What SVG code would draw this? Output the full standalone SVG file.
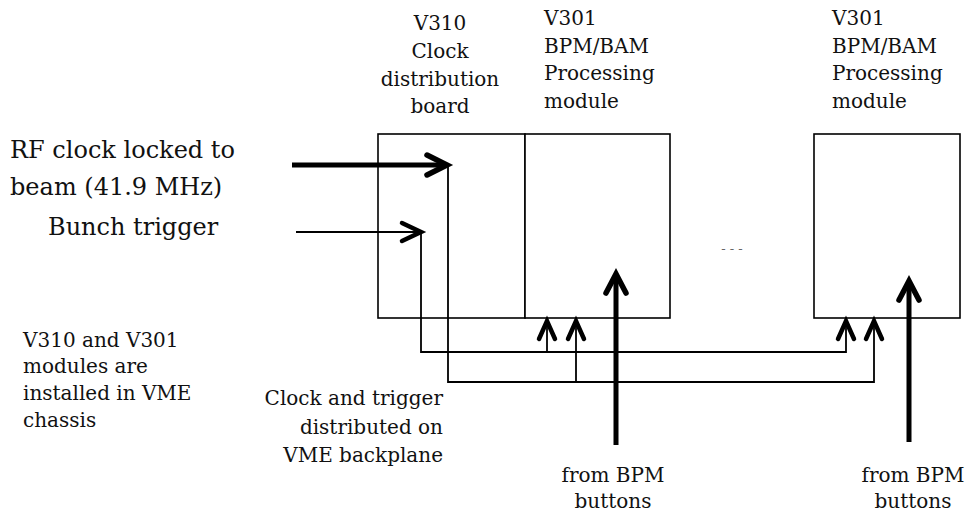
<svg xmlns="http://www.w3.org/2000/svg" width="966" height="517" viewBox="0 0 966 517">
<style>
text{font-family:"DejaVu Serif","Liberation Serif",serif;fill:#111}
.big{font-size:24px}
.lbl{font-size:20px}
.box{fill:#fff;stroke:#000;stroke-width:1.6}
.ln{fill:none;stroke:#000;stroke-width:1.8}
.thin{fill:none;stroke:#000;stroke-width:2.2}
.thick{fill:none;stroke:#000;stroke-width:5}
.head{fill:none;stroke:#000;stroke-width:4.5;stroke-linecap:round;stroke-linejoin:miter}
.headb{fill:none;stroke:#000;stroke-width:5.5;stroke-linecap:round;stroke-linejoin:miter}
</style>
<rect width="966" height="517" fill="#fff"/>

<g id="v310">
<rect class="box" x="378" y="134" width="147" height="184"/>
<text class="lbl" text-anchor="middle"><tspan x="440" y="30">V310</tspan><tspan x="440" y="58">Clock</tspan><tspan x="440" y="86">distribution</tspan><tspan x="440" y="113">board</tspan></text>
</g>

<g id="v301a">
<rect class="box" x="525" y="134" width="145" height="184"/>
<text class="lbl"><tspan x="544" y="25">V301</tspan><tspan x="544" y="53">BPM/BAM</tspan><tspan x="544" y="80">Processing</tspan><tspan x="544" y="108">module</tspan></text>
</g>

<g id="v301b">
<rect class="box" x="814" y="134" width="146" height="184"/>
<text class="lbl"><tspan x="832" y="25">V301</tspan><tspan x="832" y="53">BPM/BAM</tspan><tspan x="832" y="80">Processing</tspan><tspan x="832" y="108">module</tspan></text>
</g>

<g id="inputs">
<text class="big"><tspan x="10" y="158">RF clock locked to</tspan><tspan x="10" y="195">beam (41.9 MHz)</tspan></text>
<text class="big" x="48" y="235">Bunch trigger</text>
</g>

<g id="notes">
<text class="lbl"><tspan x="23" y="347">V310 and V301</tspan><tspan x="23" y="373">modules are</tspan><tspan x="23" y="400">installed in VME</tspan><tspan x="23" y="427">chassis</tspan></text>
<text class="lbl" text-anchor="end"><tspan x="443" y="405">Clock and trigger</tspan><tspan x="443" y="434">distributed on</tspan><tspan x="443" y="462">VME backplane</tspan></text>
<text class="lbl" text-anchor="middle"><tspan x="613" y="482">from BPM</tspan><tspan x="613" y="508">buttons</tspan></text>
<text class="lbl" text-anchor="middle"><tspan x="913" y="482">from BPM</tspan><tspan x="913" y="508">buttons</tspan></text>
<text x="732" y="253" text-anchor="middle" style="font-size:13px;fill:#666">- - -</text>
</g>

<g id="connectors">
<!-- RF clock -->
<line class="thick" x1="292" y1="165" x2="445" y2="165"/>
<polyline class="headb" points="427,155 447,165 427,175"/>
<polyline class="ln" points="448,165 448,382 874,382 874,322"/>
<!-- Bunch trigger -->
<line class="thin" x1="296" y1="232" x2="419" y2="232"/>
<polyline class="head" points="402,223 421,232 402,241"/>
<polyline class="ln" points="421,232 421,352 846,352 846,322"/>
<!-- branches to first V301 -->
<line class="ln" x1="547" y1="352" x2="547" y2="322"/>
<line class="ln" x1="576" y1="382" x2="576" y2="322"/>
<polyline class="head" points="539,339 547,321 555,339"/>
<polyline class="head" points="568,339 576,321 584,339"/>
<polyline class="head" points="838,339 846,321 854,339"/>
<polyline class="head" points="866,339 874,321 882,339"/>
<!-- BPM inputs -->
<line class="thick" x1="616" y1="445" x2="616" y2="276"/>
<polyline class="headb" points="606,293 616,274 626,293"/>
<line class="thick" x1="909" y1="442" x2="909" y2="283"/>
<polyline class="headb" points="899,300 909,281 919,300"/>
</g>
</svg>
